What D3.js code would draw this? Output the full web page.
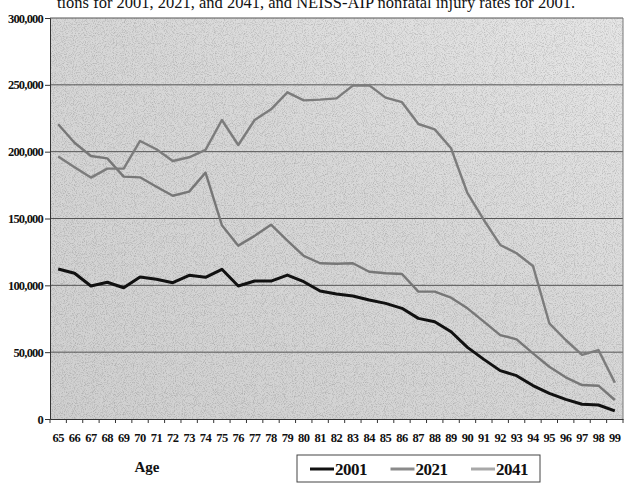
<!DOCTYPE html>
<html>
<head>
<meta charset="utf-8">
<script src="https://cdn.jsdelivr.net/npm/d3@7"></script>
<style>
  body { margin: 0; background: #fff; }
  .chart { width: 626px; height: 493px; }
  text { font-family: "Liberation Serif", "Times New Roman", serif; fill: #111; }
</style>
</head>
<body>
<div class="chart"></div>
<script>
// ages on the x axis
const ages = d3.range(65, 100);

// projected injuries by age
const y2001 = [112200, 109000, 99500, 102300, 98200, 106200, 104500, 102000, 107500, 106000,
  112000, 99500, 103200, 103200, 107700, 102700, 95800, 93500, 92000, 89000,
  86500, 82800, 75300, 72800, 65300, 53600, 44600, 36200, 32400, 25000,
  19200, 14700, 11000, 10500, 6100];
const y2021 = [220500, 206700, 196800, 195000, 181300, 180800, 173800, 167000, 170100, 184300,
  145000, 129700, 137000, 145400, 133400, 122000, 116500, 116200, 116500, 110200,
  109000, 108500, 95300, 95300, 90800, 82800, 72800, 62800, 59600, 49100,
  39100, 31200, 25400, 24900, 14200];
const y2041 = [196300, 188300, 180600, 187300, 187300, 208000, 201800, 193000, 195800, 201300,
  223700, 205000, 223700, 231700, 244400, 238400, 238900, 239900, 249400, 249600,
  240400, 237000, 220700, 216700, 202500, 168900, 148900, 130200, 124000, 114500,
  71600, 59100, 47900, 51600, 27200];

const yTicks = [0, 50000, 100000, 150000, 200000, 250000, 300000];
const seriesNames = ['2001', '2021', '2041'];

const width = d3.select('.chart').node().clientWidth;
const height = d3.select('.chart').node().clientHeight;
const svg = d3.select('.chart')
  .append('svg')
  .attr('width', width)
  .attr('height', height);

const pLeft = 50, pRight = 623, pTop = 18, pBottom = 419;

const x = d3.scaleBand().domain(ages).range([pLeft, pRight]);
const y = d3.scaleLinear().domain([0, 300000]).range([pBottom, pTop]);

// scanned paper look: gradient + speckle noise
const defs = svg.append('defs');
const grad = defs.append('linearGradient').attr('id', 'bg')
  .attr('x1', '0').attr('y1', '1').attr('x2', '1').attr('y2', '0');
grad.append('stop').attr('offset', '0').attr('stop-color', '#d0d0d0');
grad.append('stop').attr('offset', '0.55').attr('stop-color', '#d8d8d8');
grad.append('stop').attr('offset', '1').attr('stop-color', '#e6e6e6');

const f = defs.append('filter').attr('id', 'noise')
  .attr('x', 0).attr('y', 0).attr('width', 1).attr('height', 1);
f.append('feTurbulence').attr('type', 'fractalNoise')
  .attr('baseFrequency', 1.1).attr('numOctaves', 1).attr('seed', 3);
f.append('feColorMatrix').attr('type', 'matrix')
  .attr('values', '0 0 0 0 0  0 0 0 0 0  0 0 0 0 0  2.2 0 0 0 -1.0');

svg.append('rect')
  .attr('x', pLeft).attr('y', pTop)
  .attr('width', pRight - pLeft).attr('height', pBottom - pTop)
  .attr('fill', 'url(#bg)');
svg.append('rect')
  .attr('x', pLeft).attr('y', pTop)
  .attr('width', pRight - pLeft).attr('height', pBottom - pTop)
  .attr('filter', 'url(#noise)')
  .attr('opacity', 0.22);

// title line, cut off by the scan
svg.append('text')
  .attr('x', 316).attr('y', 8)
  .attr('text-anchor', 'middle')
  .style('font-size', '16.5px')
  .text('tions for 2001, 2021, and 2041, and NEISS-AIP nonfatal injury rates for 2001.');

// gridlines
svg.append('g')
  .selectAll('line')
  .data(yTicks.filter(d => d > 0))
  .join('line')
  .attr('x1', pLeft).attr('x2', pRight)
  .attr('y1', d => y(d)).attr('y2', d => y(d))
  .style('stroke', '#555')
  .style('stroke-width', '1px');

// right border
svg.append('line')
  .attr('x1', pRight).attr('x2', pRight)
  .attr('y1', pTop).attr('y2', pBottom)
  .style('stroke', '#777').style('stroke-width', '1px');

// y axis
const yAxis = svg.append('g')
  .attr('transform', `translate(${pLeft},0)`)
  .call(d3.axisLeft(y).tickValues(yTicks).tickSize(5).tickPadding(2)
    .tickFormat(d3.format(',')));
yAxis.select('.domain').style('stroke', '#333');
yAxis.selectAll('.tick line').style('stroke', '#333');
yAxis.selectAll('text')
  .style('font-family', '"Liberation Serif", serif')
  .style('font-size', '12.5px')
  .style('font-weight', 'bold')
  .style('letter-spacing', '-0.8px')
  .attr('fill', '#111');

// x axis
const xAxis = svg.append('g')
  .attr('transform', `translate(0,${pBottom})`)
  .call(d3.axisBottom(x).tickSize(0).tickPadding(14));
xAxis.select('.domain').style('stroke', '#333');
xAxis.selectAll('text')
  .style('font-family', '"Liberation Serif", serif')
  .style('font-size', '12.5px')
  .style('font-weight', 'bold')
  .style('letter-spacing', '-0.5px')
  .attr('fill', '#111');
// tick marks between categories
xAxis.selectAll('.sep')
  .data(ages.concat([100]))
  .join('line')
  .attr('class', 'sep')
  .attr('x1', d => d < 100 ? x(d) : pRight)
  .attr('x2', d => d < 100 ? x(d) : pRight)
  .attr('y1', 0).attr('y2', 4)
  .style('stroke', '#333');

// lines
const series = [
  { name: '2021', values: y2021, color: '#777', w: 2.4 },
  { name: '2041', values: y2041, color: '#7c7c7c', w: 2.4 },
  { name: '2001', values: y2001, color: '#111', w: 3 }
];
const line = d3.line()
  .x((d, i) => x(ages[i]) + x.bandwidth() / 2)
  .y(d => y(d));
svg.append('g')
  .selectAll('path')
  .data(series)
  .join('path')
  .attr('d', d => line(d.values))
  .attr('fill', 'none')
  .attr('stroke', d => d.color)
  .attr('stroke-width', d => d.w)
  .attr('stroke-linejoin', 'round');

// axis title
svg.append('text')
  .attr('x', 147).attr('y', 472)
  .attr('text-anchor', 'middle')
  .style('font-size', '15px')
  .style('font-weight', 'bold')
  .text('Age');

// legend
const legendColors = { '2001': '#111', '2021': '#8a8a8a', '2041': '#a8a8a8' };
const lg = svg.append('g');
lg.append('rect')
  .attr('x', 297).attr('y', 455)
  .attr('width', 243).attr('height', 27)
  .attr('fill', '#fff')
  .attr('stroke', '#444').attr('stroke-width', 1);
const items = lg.selectAll('g')
  .data(seriesNames)
  .join('g')
  .attr('transform', (d, i) => `translate(${310 + i * 80.5},469)`);
items.append('line')
  .attr('x1', 0).attr('x2', 24)
  .attr('y1', 0).attr('y2', 0)
  .attr('stroke', d => legendColors[d])
  .attr('stroke-width', 3);
items.append('text')
  .attr('x', 25).attr('y', 6)
  .style('font-size', '17px')
  .style('font-weight', 'bold')
  .style('letter-spacing', '-0.5px')
  .text(d => d);
</script>
</body>
</html>
